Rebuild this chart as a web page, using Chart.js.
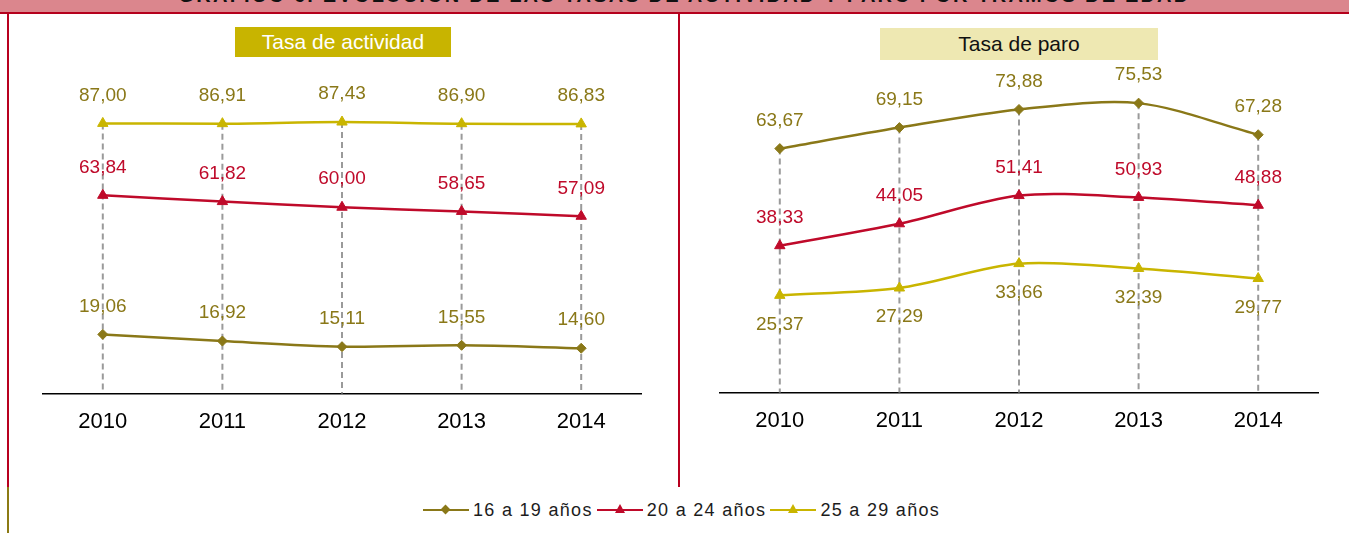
<!DOCTYPE html>
<html>
<head>
<meta charset="utf-8">
<script src="https://cdn.jsdelivr.net/npm/chart.js@4.4.0/dist/chart.umd.min.js"></script>
<style>
  body { margin: 0; width: 1349px; height: 533px; background: #fff; position: relative; overflow: hidden;
         font-family: "Liberation Sans", Arial, sans-serif; }
  #header { position: absolute; left: 0; top: 0; width: 1349px; height: 12px; background: #DB868D;
            border-bottom: 2px solid #B5001C; overflow: hidden; }
  #header div { position: absolute; left: 0; width: 1369px; top: -15px; line-height: 20px; text-align: center;
                font-weight: bold; font-size: 20px; letter-spacing: 2.2px; color: #111; }
  .vline { position: absolute; width: 2px; }
  canvas { position: absolute; }
  .tbox { position: absolute; text-align: center; font-size: 21px; }
  #legend { position: absolute; left: 423px; top: 501px; height: 18px; display: flex; align-items: center;
            font-size: 18px; letter-spacing: 1.3px; color: #1c1c1c; }
  .lg-line { position: relative; width: 46px; height: 2px; margin-right: 4px; }
  .lg-text { margin-right: 4px; }
  .mk-dia { position: absolute; left: 19px; top: -3px; width: 7px; height: 7px; transform: rotate(45deg); }
  .mk-tri { position: absolute; left: 18px; top: -5px; width: 0; height: 0;
            border-left: 5px solid transparent; border-right: 5px solid transparent; border-bottom: 9px solid; }
</style>
</head>
<body>
<div id="header"><div>GRÁFICO 6. EVOLUCIÓN DE LAS TASAS DE ACTIVIDAD Y PARO POR TRAMOS DE EDAD</div></div>
<div class="vline" style="left:7px;top:14px;height:473px;background:#B8001F"></div>
<div class="vline" style="left:7px;top:487px;height:46px;background:#8C7A14"></div>
<div class="vline" style="left:678px;top:14px;height:473px;background:#B8001F"></div>

<canvas id="chartActividad" width="666" height="460" style="left:10px;top:14px"></canvas>
<canvas id="chartParo" width="663" height="460" style="left:682px;top:14px"></canvas>

<div class="tbox" style="left:235px;top:27px;width:216px;height:30px;line-height:30px;background:#C8B400;color:#fff">Tasa de actividad</div>
<div class="tbox" style="left:880px;top:28px;width:278px;height:32px;line-height:32px;background:#EEE8B2;color:#111">Tasa de paro</div>

<div id="legend"></div>

<script>
// data
const years = ['2010', '2011', '2012', '2013', '2014'];
const seriesNames = ['16 a 19 años', '20 a 24 años', '25 a 29 años'];

const actividad1619 = [19.06, 16.92, 15.11, 15.55, 14.60];
const actividad2024 = [63.84, 61.82, 60.00, 58.65, 57.09];
const actividad2529 = [87.00, 86.91, 87.43, 86.90, 86.83];

const paro1619 = [63.67, 69.15, 73.88, 75.53, 67.28];
const paro2024 = [38.33, 44.05, 51.41, 50.93, 48.88];
const paro2529 = [25.37, 27.29, 33.66, 32.39, 29.77];

const colOlive = '#8A7818';
const colRed = '#BF0A2A';
const colGold = '#C9B500';

// dashed lines from the highest point down to the axis
const dropLines = {
    id: 'dropLines',
    beforeDatasetsDraw(chart) {
        const ctx = chart.ctx;
        const area = chart.chartArea;
        const metas = chart.getSortedVisibleDatasetMetas();
        ctx.save();
        ctx.strokeStyle = '#9A9A9A';
        ctx.lineWidth = 2;
        ctx.setLineDash([6, 4]);
        for (let i = 0; i < years.length; i++) {
            let top = area.bottom;
            let x = 0;
            metas.forEach(function (m) {
                const p = m.data[i];
                if (p.y < top) top = p.y;
                x = p.x;
            });
            ctx.beginPath();
            ctx.moveTo(x, top);
            ctx.lineTo(x, area.bottom);
            ctx.stroke();
        }
        ctx.restore();
    }
};

// value labels, comma decimals
const valueLabels = {
    id: 'valueLabels',
    afterDatasetsDraw(chart) {
        const ctx = chart.ctx;
        ctx.save();
        ctx.font = '19px "Liberation Sans", Arial, sans-serif';
        ctx.textAlign = 'center';
        ctx.textBaseline = 'middle';
        chart.data.datasets.forEach(function (ds, di) {
            const meta = chart.getDatasetMeta(di);
            ctx.fillStyle = ds.labelColor;
            meta.data.forEach(function (p, i) {
                const txt = ds.data[i].toFixed(2).replace('.', ',');
                const dy = ds.labelBelow ? 29 : -28;
                ctx.fillText(txt, p.x, p.y + dy);
            });
        });
        ctx.restore();
    }
};

function makeDataset(name, values, color, labelColor, style, below) {
    return {
        label: name,
        data: values,
        borderColor: color,
        backgroundColor: color,
        borderWidth: 2.5,
        pointStyle: style,
        pointRadius: style === 'rectRot' ? 5 : 6,
        pointBorderWidth: 1,
        tension: 0.3,
        labelColor: labelColor,
        labelBelow: below
    };
}

function makeChart(id, datasets, yMax, pad) {
    return new Chart(document.getElementById(id), {
        type: 'line',
        data: { labels: years, datasets: datasets },
        plugins: [dropLines, valueLabels],
        options: {
            responsive: false,
            animation: false,
            layout: { padding: pad },
            plugins: { legend: { display: false }, tooltip: { enabled: false } },
            scales: {
                x: {
                    offset: true,
                    grid: { display: false },
                    border: { display: true, color: '#000', width: 1.5 },
                    ticks: { color: '#000', padding: 7, font: { size: 22, family: '"Liberation Sans", Arial, sans-serif' } }
                },
                y: { display: false, min: 0, max: yMax }
            }
        }
    });
}

makeChart('chartActividad', [
    makeDataset(seriesNames[0], actividad1619, colOlive, colOlive, 'rectRot', false),
    makeDataset(seriesNames[1], actividad2024, colRed, colRed, 'triangle', false),
    makeDataset(seriesNames[2], actividad2529, colGold, colOlive, 'triangle', false)
], 100, { left: 33, right: 35, top: 69, bottom: 32 });

makeChart('chartParo', [
    makeDataset(seriesNames[0], paro1619, colOlive, colOlive, 'rectRot', false),
    makeDataset(seriesNames[1], paro2024, colRed, colRed, 'triangle', false),
    makeDataset(seriesNames[2], paro2529, colGold, colOlive, 'triangle', true)
], 80, { left: 38, right: 27, top: 72, bottom: 33 });

// legend (html)
const legendColors = [colOlive, colRed, colGold];
const legendMarks = ['mk-dia', 'mk-tri', 'mk-tri'];
const legendEl = document.getElementById('legend');
seriesNames.forEach(function (name, i) {
    const line = document.createElement('span');
    line.className = 'lg-line';
    line.style.background = legendColors[i];
    const mk = document.createElement('span');
    mk.className = legendMarks[i];
    if (legendMarks[i] === 'mk-dia') mk.style.background = legendColors[i];
    else mk.style.borderBottomColor = legendColors[i];
    line.appendChild(mk);
    const txt = document.createElement('span');
    txt.className = 'lg-text';
    txt.textContent = name;
    legendEl.appendChild(line);
    legendEl.appendChild(txt);
});
</script>
</body>
</html>
